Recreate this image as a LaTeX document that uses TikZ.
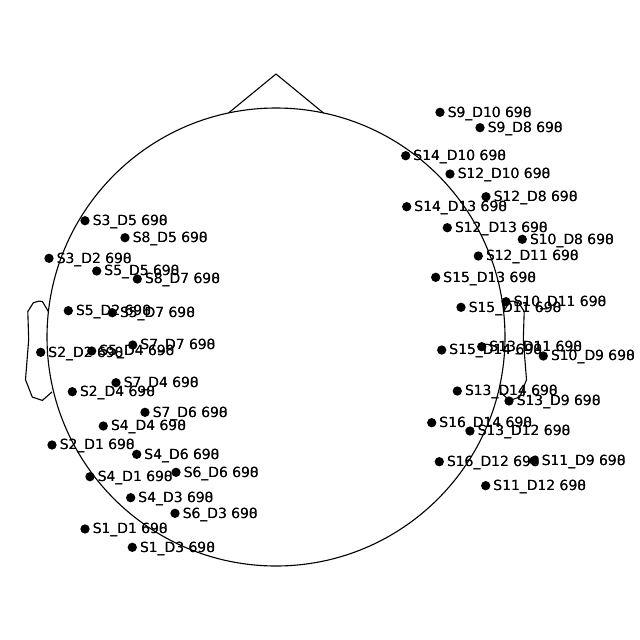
\documentclass[tikz,border=0pt]{standalone}
\usepackage{fontspec}
\setmainfont{DejaVu Sans}
\begin{document}
\begin{tikzpicture}[x=0.72pt,y=-0.72pt,
  outline/.style={line width=0.8pt,line join=round},
  chdot/.style={circle,fill=black,inner sep=0pt,minimum size=6.7pt},
  chlab/.style={anchor=base west,inner sep=0pt,font=\fontsize{10}{12}\selectfont}]
\useasboundingbox (0,0) rectangle (640,640);
% head
\draw[outline] (276,337) circle (229);
% nose
\draw[outline] (228.5,113) -- (276,74) -- (323.5,113);
% ears
\draw[outline] (48.4,311.6) -- (42.4,301.5) -- (38.8,301.1) -- (33.3,302.8) -- (27.8,311.6) -- (28.7,339.5) -- (25.5,379.7) -- (32.3,397.1) -- (42.4,400.4) -- (52.0,391.9);
\draw[outline] (503.6,311.6) -- (509.6,301.5) -- (513.2,301.1) -- (518.7,302.8) -- (524.2,311.6) -- (523.3,339.5) -- (526.5,379.7) -- (519.7,397.1) -- (509.6,400.4) -- (500.0,391.9);
% channels
\foreach \n/\x/\y in {
  S3D5/85/220.7, S8D5/125/237.7, S3D2/49/258.3,
  S5D5/96.7/271, S8D7/137.3/279, S5D2/68.3/310.7,
  S5D7/112.3/312.7, S2D2/40.7/352.3, S5D4/91.7/351,
  S7D7/132.7/345, S7D4/116/382.7, S2D4/72.3/391.7,
  S7D6/145/412.3, S4D4/103.3/426, S2D1/52/445,
  S4D6/136.7/454.3, S4D1/90/476.7, S6D6/176/472.3,
  S4D3/130.7/497.7, S6D3/175/513.3, S1D1/85/529,
  S1D3/132.3/547.3,
  S9D10/440/112.3, S9D8/480/127.7, S14D10/405.7/155.7,
  S12D10/450/174, S12D8/486/196.7, S14D13/406.7/206.7,
  S12D13/447.3/227.7, S10D8/522.3/239.3, S12D11/478.3/256,
  S15D13/435.7/277.3, S10D11/506/301.7, S15D11/461/307.3,
  S15D14/441.7/350, S13D11/481.7/346.7, S10D9/543.3/356,
  S13D14/457.3/391, S13D9/509/401, S16D14/431.7/422.7,
  S13D12/470/431, S16D12/439.3/461.7, S11D9/534/460.7,
  S11D12/485.7/485.7} {
  \node[chdot] (\n) at (\x,\y) {};
}
\foreach \n/\t in {
  S3D5/S3\_D5, S8D5/S8\_D5, S3D2/S3\_D2, S5D5/S5\_D5, S8D7/S8\_D7, S5D2/S5\_D2,
  S5D7/S5\_D7, S2D2/S2\_D2, S5D4/S5\_D4, S7D7/S7\_D7, S7D4/S7\_D4, S2D4/S2\_D4,
  S7D6/S7\_D6, S4D4/S4\_D4, S2D1/S2\_D1, S4D6/S4\_D6, S4D1/S4\_D1, S6D6/S6\_D6,
  S4D3/S4\_D3, S6D3/S6\_D3, S1D1/S1\_D1, S1D3/S1\_D3,
  S9D10/S9\_D10, S9D8/S9\_D8, S14D10/S14\_D10, S12D10/S12\_D10, S12D8/S12\_D8,
  S14D13/S14\_D13, S12D13/S12\_D13, S10D8/S10\_D8, S12D11/S12\_D11, S15D13/S15\_D13,
  S10D11/S10\_D11, S15D11/S15\_D11, S15D14/S15\_D14, S13D11/S13\_D11, S10D9/S10\_D9,
  S13D14/S13\_D14, S13D9/S13\_D9, S16D14/S16\_D14, S13D12/S13\_D12, S16D12/S16\_D12,
  S11D9/S11\_D9, S11D12/S11\_D12} {
  \node[chlab] (\n l) at ([shift={(7.5,4.8)}]\n.center) {\rlap{\t{} 690}\t{} 698};
}
\end{tikzpicture}
\end{document}
